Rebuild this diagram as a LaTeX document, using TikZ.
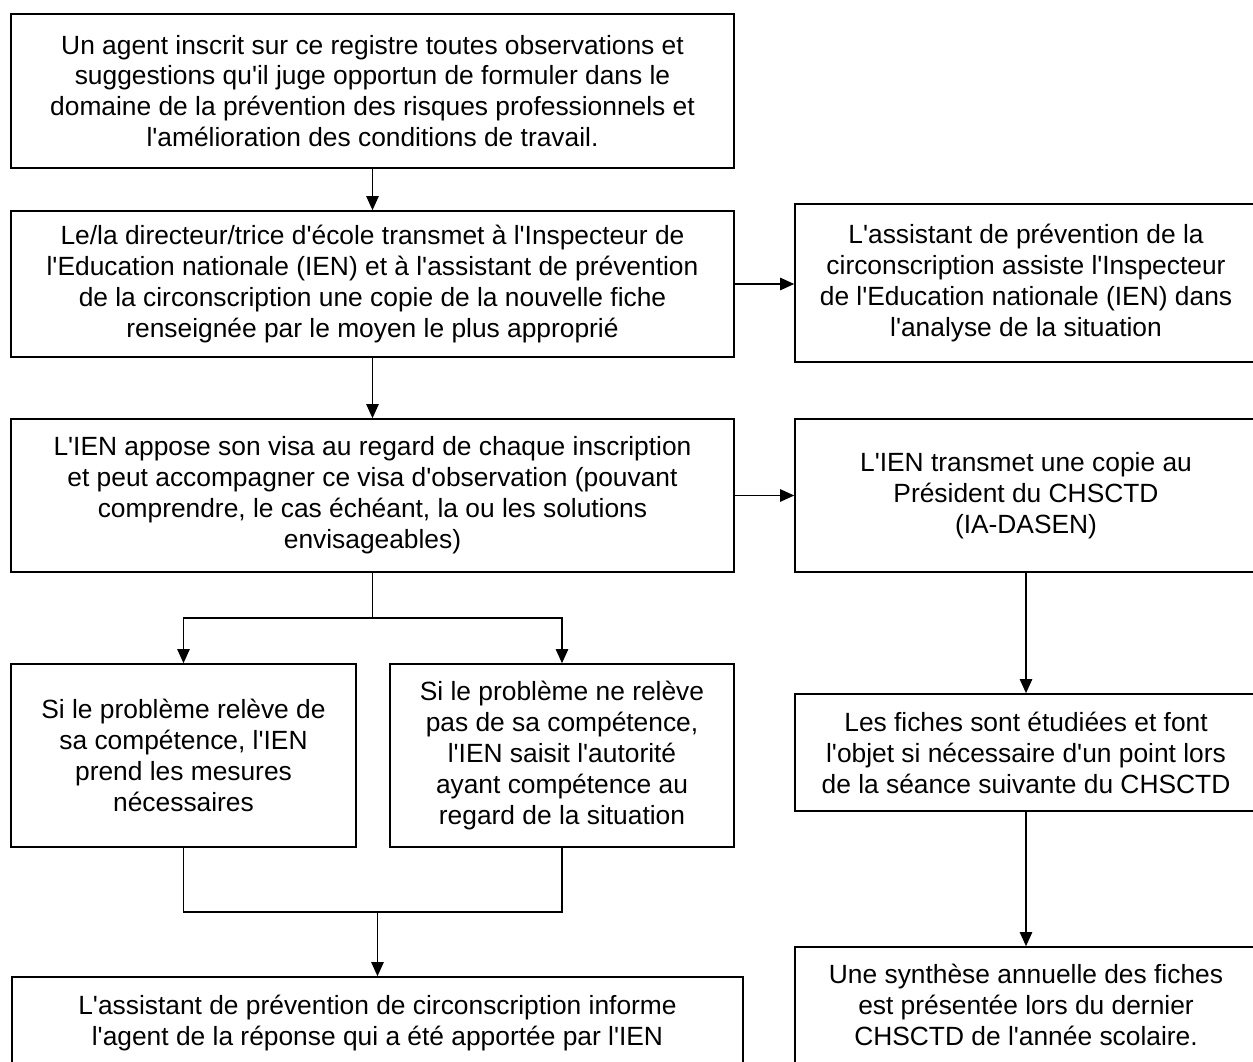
\documentclass[tikz,border=0pt]{standalone}
\usepackage{fontspec}
\setmainfont{Liberation Sans}[Ligatures=TeXOff]
\usetikzlibrary{arrows.meta}

\begin{document}
\begin{tikzpicture}[x=0.02cm, y=-0.02cm,
    bloc/.style={draw, line width=0.9pt, align=center, inner sep=0pt,
        font=\fontsize{15}{17.6}\selectfont},
    fleche/.style={-{Triangle[length=8pt,width=7pt]}, line width=0.9pt},
    trait/.style={line width=0.9pt}
]
\useasboundingbox (0,0) rectangle (1253,1061);
\fill[white] (0,0) rectangle (1253,1061);
\clip (0,0) rectangle (1253,1061);

\node[bloc, minimum width=14.46cm, minimum height=3.08cm] (agent) at (372.5,91) {Un agent inscrit sur ce registre toutes observations et\\ suggestions qu'il juge opportun de formuler dans le\\ domaine de la prévention des risques professionnels et\\ l'amélioration des conditions de travail.};
\node[bloc, minimum width=14.46cm, minimum height=2.92cm] (directeur) at (372.5,284) {Le/la directeur/trice d'école transmet à l'Inspecteur de\\ l'Education nationale (IEN) et à l'assistant de prévention\\ de la circonscription une copie de la nouvelle fiche\\ renseignée par le moyen le plus approprié};
\node[bloc, minimum width=14.46cm, minimum height=3.06cm] (visa) at (372.5,495.5) {L'IEN appose son visa au regard de chaque inscription\\ et peut accompagner ce visa d'observation (pouvant\\ comprendre, le cas échéant, la ou les solutions\\ envisageables)};
\node[bloc, minimum width=6.9cm, minimum height=3.66cm] (competent) at (183.5,755.5) {Si le problème relève de\\ sa compétence, l'IEN\\ prend les mesures\\ nécessaires};
\node[bloc, minimum width=6.88cm, minimum height=3.66cm] (autorite) at (562,755.5) {Si le problème ne relève\\ pas de sa compétence,\\ l'IEN saisit l'autorité\\ ayant compétence au\\ regard de la situation};
\node[bloc, minimum width=14.62cm, minimum height=1.84cm] (reponse) at (377.5,1023) {L'assistant de prévention de circonscription informe\\ l'agent de la réponse qui a été apportée par l'IEN};

\node[bloc, minimum width=9.24cm, minimum height=3.16cm] (analyse) at (1026,283) {L'assistant de prévention de la\\ circonscription assiste l'Inspecteur\\ de l'Education nationale (IEN) dans\\ l'analyse de la situation};
\node[bloc, minimum width=9.24cm, minimum height=3.06cm] (copie) at (1026,495.5) {L'IEN transmet une copie au\\ Président du CHSCTD\\ (IA-DASEN)};
\node[bloc, minimum width=9.24cm, minimum height=2.34cm] (seance) at (1026,752.5) {Les fiches sont étudiées et font\\ l'objet si nécessaire d'un point lors\\ de la séance suivante du CHSCTD};
\node[bloc, minimum width=9.24cm, minimum height=2.32cm] (synthese) at (1026,1005) {Une synthèse annuelle des fiches\\ est présentée lors du dernier\\ CHSCTD de l'année scolaire.};

\coordinate (partage) at (372.5,618);
\coordinate (jonction) at (377.5,912);

\draw[fleche] (agent) -- (directeur);
\draw[fleche] (directeur.east) -- (directeur.east -| analyse.west);
\draw[fleche] (directeur) -- (visa);
\draw[fleche] (visa.east) -- (visa.east -| copie.west);
\draw[trait] (visa.south) -- (partage);
\draw[fleche] (partage) -| (competent.north);
\draw[fleche] (partage) -| (autorite.north);
\draw[trait] (competent.south) |- (jonction) -| (autorite.south);
\draw[fleche] (jonction) -- (reponse.north);
\draw[fleche] (copie) -- (seance);
\draw[fleche] (seance) -- (synthese);

\end{tikzpicture}
\end{document}
